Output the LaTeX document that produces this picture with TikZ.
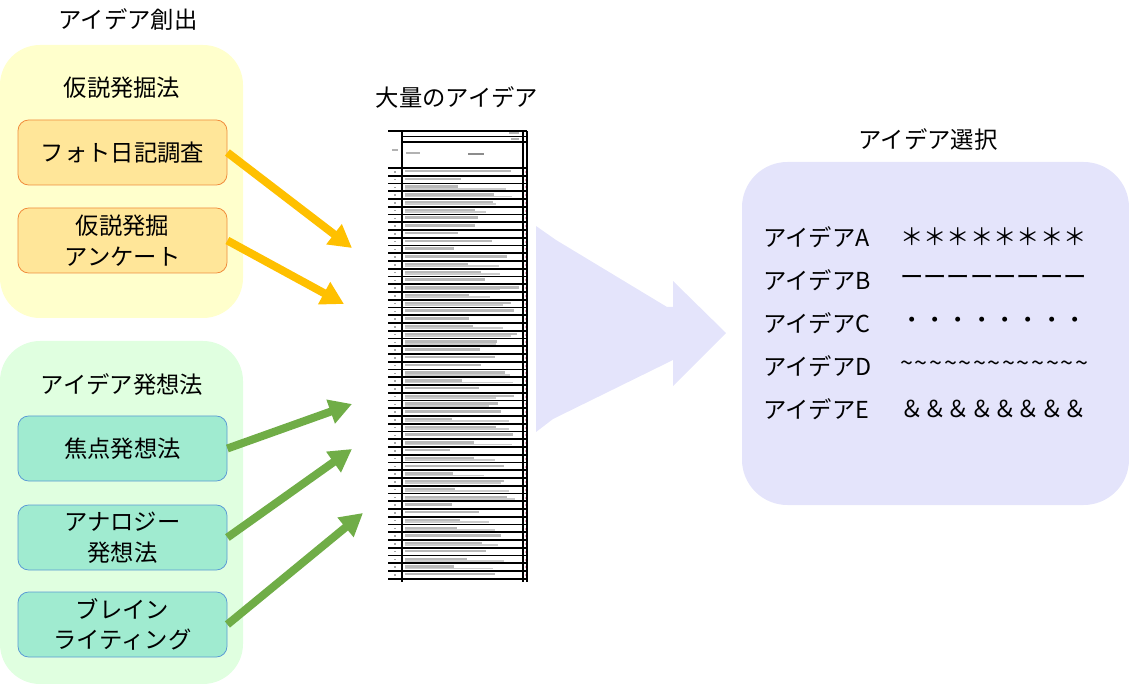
\documentclass[tikz,border=0pt]{standalone}
\usepackage{fontspec}
\setmainfont{Noto Sans CJK JP}
\usetikzlibrary{arrows.meta}
\definecolor{yelbg}{HTML}{FFFFCC}
\definecolor{orfill}{HTML}{FFE699}
\definecolor{ordraw}{HTML}{F08C3C}
\definecolor{grbg}{HTML}{E0FFE0}
\definecolor{grfill}{HTML}{A0EBD0}
\definecolor{grdraw}{HTML}{5B9BD5}
\definecolor{lav}{HTML}{E4E4FB}
\definecolor{yarrow}{HTML}{FFC000}
\definecolor{garrow}{HTML}{70AD47}
\definecolor{pinkmark}{HTML}{F2A0C0}
\tikzset{
  lbl/.style={font=\fontsize{17.5}{23}\selectfont, inner sep=0pt, align=center},
  group/.style={rounded corners=30pt, draw=none, inner sep=0pt},
  obox/.style={lbl, rounded corners=8pt, draw=ordraw, line width=0.6pt, fill=orfill, minimum width=156.75pt, minimum height=48.75pt},
  gbox/.style={lbl, rounded corners=8pt, draw=grdraw, line width=0.6pt, fill=grfill, minimum width=156.75pt, minimum height=48.75pt},
  yarr/.style={draw=yarrow, line width=6pt, -{Triangle[length=17pt,width=18pt]}},
  garr/.style={draw=garrow, line width=6pt, -{Triangle[length=17pt,width=18pt]}},
  tline/.style={draw=black, line width=1.35pt},
  txtbar/.style={fill=black!50},
}
\begin{document}
\begin{tikzpicture}[x=0.75pt, y=-0.75pt]
\useasboundingbox (0,0) rectangle (1129,684);
% group backgrounds
\node[group, fill=yelbg, minimum width=182.25pt, minimum height=204.75pt] (ygrp) at (121.5,181.5) {};
\node[group, fill=grbg, minimum width=182.25pt, minimum height=257.25pt] (ggrp) at (121.5,512.5) {};
\node[group, fill=lav, rounded corners=34pt, minimum width=290.25pt, minimum height=257.25pt] (rgrp) at (935.5,333.5) {};
% titles
\node[lbl] (t0) at (128,20) {アイデア創出};
\node[lbl] (t1) at (122,88) {仮説発掘法};
\node[lbl] (t2) at (122,385) {アイデア発想法};
\node[lbl] (t3) at (457,97) {大量のアイデア};
\node[lbl] (t4) at (928,140) {アイデア選択};
% left boxes
\node[obox] (fb) at (122.5,152.5) {フォト日記調査};
\node[obox] (kb) at (122.5,240.5) {仮説発掘\\アンケート};
\node[gbox] (sb) at (122.5,448.5) {焦点発想法};
\node[gbox] (ab) at (122.5,537.5) {アナロジー\\発想法};
\node[gbox] (bb) at (122.5,624.5) {ブレイン\\ライティング};
% arrow targets
\coordinate (e1) at (352,248);
\coordinate (e2) at (344,304);
\coordinate (e3) at (352,404);
\coordinate (e4) at (352,449);
\coordinate (e5) at (363,513);
\draw[yarr] (fb.east) -- (e1);
\draw[yarr] (kb.east) -- (e2);
\draw[garr] (sb.east) -- (e3);
\draw[garr] (ab.east) -- (e4);
\draw[garr] (bb.east) -- (e5);
% big arrow
\fill[lav] (536,226) -- (556,240) -- (667,307) -- (673,307) -- (673,281) -- (726,333)
  -- (673,386) -- (673,360) -- (553,419) -- (536,432) -- cycle;
% document (table image)
\pgfmathsetseed{7}
\draw[tline] (388,131) -- (527,131);
\draw[tline] (402,136.5) -- (527,136.5);
\draw[tline] (402,142) -- (527,142);
\draw[tline] (388,168) -- (527,168);
\fill[black!30] (392,149) rectangle (398,151);
\fill[black!30] (406,152) rectangle (420,154);
\fill[black!45] (468,153) rectangle (484,155.5);
\fill[black!30] (509,132.5) rectangle (519,134.5);
\fill[black!30] (511,138) rectangle (519,140);
\foreach \i in {0,...,52} {
  \pgfmathsetmacro{\yy}{168+\i*7.75}
  \pgfmathsetmacro{\len}{45+rnd*70}
  \pgfmathsetmacro{\two}{rnd}
  \draw[tline] (388,\yy+7.75) -- (527,\yy+7.75);
  \fill[black!35] (394,\yy+3.2) rectangle (396,\yy+4.6);
  \fill[pinkmark] (524.8,\yy+3) rectangle (526,\yy+5);
  \fill[txtbar, opacity=0.55] (405,\yy+2) rectangle (405+\len,\yy+4.4);
  \ifdim \two pt > 0.55pt
    \fill[txtbar, opacity=0.4] (405,\yy+4.4) rectangle (405+40+\two*70,\yy+6.2);
  \fi
}
\draw[tline] (402,131) -- (402,582);
\draw[tline] (523,131) -- (523,582);
\draw[tline] (527,131) -- (527,582);
% right box contents
\foreach \lab/\sym/\yy in {A/＊＊＊＊＊＊＊＊/237, B/ーーーーーーーー/280, C/・・・・・・・・/323, D/{\addfontfeatures{LetterSpace=7}\textasciitilde\textasciitilde\textasciitilde\textasciitilde\textasciitilde\textasciitilde\textasciitilde\textasciitilde\textasciitilde\textasciitilde\textasciitilde\textasciitilde\textasciitilde}/366, E/＆＆＆＆＆＆＆＆/409} {
  \node[lbl, anchor=west] (n\lab) at (763,\yy) {アイデア\lab};
  \node[lbl, anchor=west] (s\lab) at (900,\yy) {\sym};
}
\end{tikzpicture}
\end{document}
